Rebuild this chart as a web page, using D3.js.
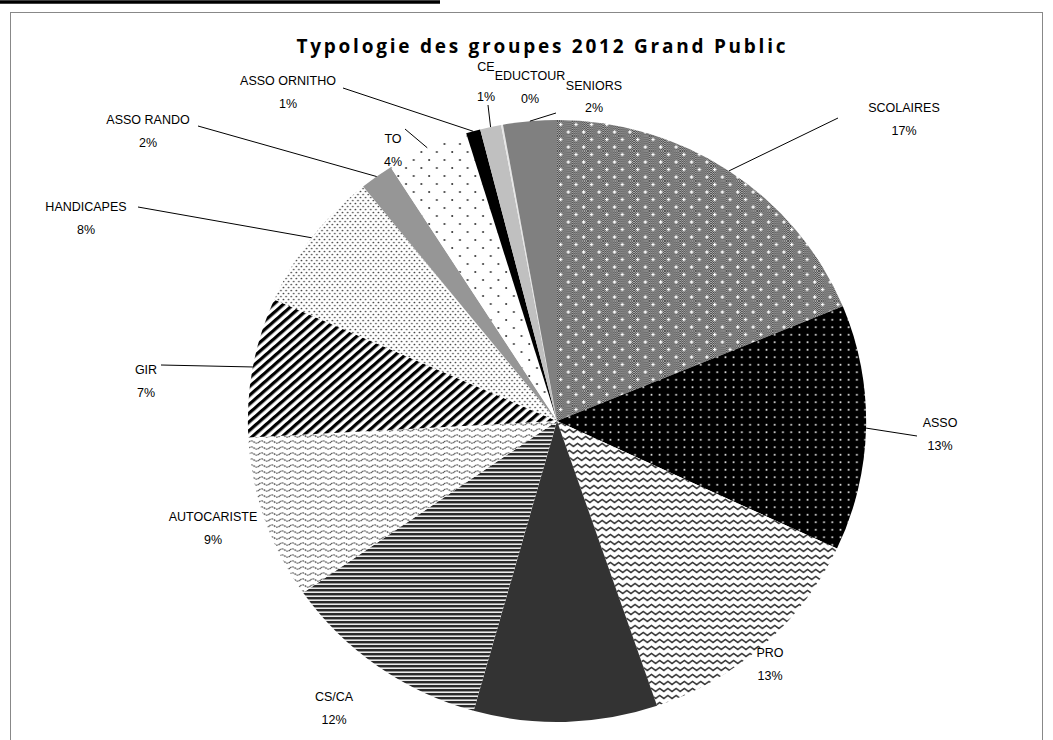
<!DOCTYPE html>
<html><head><meta charset="utf-8">
<script src="https://cdn.jsdelivr.net/npm/d3@7"></script>
<style>body{margin:0;background:#fff} svg{display:block}</style>
</head><body>
<svg id="chart" width="1053" height="740"></svg>
<script>
// ---- data ----
const title = "Typologie des groupes 2012 Grand Public";
const categories = ["SCOLAIRES","ASSO","PRO","","CS/CA","AUTOCARISTE","GIR","HANDICAPES","ASSO RANDO","TO","ASSO ORNITHO","CE","EDUCTOUR","SENIORS"];
const values = [18.8,13.2,12.8,9.6,11.0,8.8,7.5,7.6,1.75,4.3,0.75,1.1,0.1,2.8];
const percentLabels = ["17%","13%","13%","","12%","9%","7%","8%","2%","4%","1%","1%","0%","2%"];

// ---- layout / style ----
const fills = ["url(#pScol)","url(#pAsso)","url(#pPro)","#333333","url(#pCs)","url(#pAuto)","url(#pGir)","url(#pHand)","#969696","url(#pTo)","#000000","#c0c0c0","#e6e6e6","#808080"];
// [x, baseline of name, baseline of percentage]
const labelPos = [[904,112,135],[940,427,450],[770,657,680],null,[334,701,724],[213,521,544],[146,374,397],[86,211,234],[148,124,147],[393,143,166],[288,85,108],[486,71,101],[530,80,103],[594,90,112]];
const leaderStart = [[838,118],[917,436],null,null,null,null,[161,365],[138,207],[198,126],[405,129],[343,88],[488,105],null,[556,113]];
const cx = 557, cy = 421, R = 301, sx = 1.027;

const svg = d3.select("#chart");
const defs = svg.append("defs");

// checker base
const chk = defs.append("pattern").attr("id","chk").attr("patternUnits","userSpaceOnUse").attr("width",2).attr("height",2);
chk.append("rect").attr("width",2).attr("height",2).attr("fill","#b0b0b0");
chk.append("rect").attr("width",1).attr("height",1).attr("fill","#464646");
chk.append("rect").attr("x",1).attr("y",1).attr("width",1).attr("height",1).attr("fill","#464646");
// SCOLAIRES
const ps = defs.append("pattern").attr("id","pScol").attr("patternUnits","userSpaceOnUse").attr("width",15).attr("height",15);
ps.append("rect").attr("width",15).attr("height",15).attr("fill","url(#chk)");
[[3.5,3.5],[11,11]].forEach(([x,y])=>{
  ps.append("rect").attr("x",x-1.7).attr("y",y-0.6).attr("width",3.4).attr("height",1.3).attr("fill","#fff");
  ps.append("rect").attr("x",x-0.65).attr("y",y-1.7).attr("width",1.3).attr("height",3.4).attr("fill","#fff");
});
// ASSO
const pa = defs.append("pattern").attr("id","pAsso").attr("patternUnits","userSpaceOnUse").attr("width",8).attr("height",7.5);
pa.append("rect").attr("width",8).attr("height",7.5).attr("fill","#000");
pa.append("circle").attr("cx",4).attr("cy",3.7).attr("r",1).attr("fill","#eee");
// PRO zigzag
const pp = defs.append("pattern").attr("id","pPro").attr("patternUnits","userSpaceOnUse").attr("width",8).attr("height",7);
pp.append("rect").attr("width",8).attr("height",7).attr("fill","#fff");
pp.append("path").attr("d","M-2,2.5 L0,4.5 L4,1.5 L8,4.5 L10,2.5").attr("fill","none").attr("stroke","#333").attr("stroke-width",1.5);
// CS/CA horizontal stripes
const pc = defs.append("pattern").attr("id","pCs").attr("patternUnits","userSpaceOnUse").attr("width",8).attr("height",4);
pc.append("rect").attr("width",8).attr("height",4).attr("fill","#ececec");
pc.append("rect").attr("width",8).attr("height",2).attr("fill","#2a2a2a");
pc.append("rect").attr("y",2).attr("width",8).attr("height",1).attr("fill","#9a9a9a");
// AUTOCARISTE waves
const pw = defs.append("pattern").attr("id","pAuto").attr("patternUnits","userSpaceOnUse").attr("width",10).attr("height",6);
pw.append("rect").attr("width",10).attr("height",6).attr("fill","#fff");
pw.append("path").attr("d","M0,3 Q2.5,0.6 5,3 T10,3").attr("fill","none").attr("stroke","#555").attr("stroke-width",1.3).attr("stroke-dasharray","1.6,0.8");
// GIR diagonal
const pg = defs.append("pattern").attr("id","pGir").attr("patternUnits","userSpaceOnUse").attr("width",6.5).attr("height",10).attr("patternTransform","rotate(48)");
pg.append("rect").attr("width",6.5).attr("height",10).attr("fill","#fff");
pg.append("rect").attr("width",3.2).attr("height",10).attr("fill","#000");
// HANDICAPES small dots
const ph = defs.append("pattern").attr("id","pHand").attr("patternUnits","userSpaceOnUse").attr("width",5).attr("height",6);
ph.append("rect").attr("width",5).attr("height",6).attr("fill","#fff");
ph.append("circle").attr("cx",1.2).attr("cy",1.5).attr("r",0.85).attr("fill","#444");
ph.append("circle").attr("cx",3.7).attr("cy",4.5).attr("r",0.85).attr("fill","#444");
// TO sparse dots
const pt = defs.append("pattern").attr("id","pTo").attr("patternUnits","userSpaceOnUse").attr("width",15).attr("height",16);
pt.append("rect").attr("width",15).attr("height",16).attr("fill","#fff");
pt.append("circle").attr("cx",3).attr("cy",3).attr("r",1).attr("fill","#333");
pt.append("circle").attr("cx",10.5).attr("cy",11).attr("r",1).attr("fill","#333");

// frame and header bar
svg.append("line").attr("x1",0).attr("x2",440).attr("y1",2).attr("y2",2).attr("stroke","#000").attr("stroke-width",3.5);
svg.append("rect").attr("x",10.5).attr("y",12.5).attr("width",1032).attr("height",740).attr("fill","none").attr("stroke","#888").attr("stroke-width",1);

// title
svg.append("text").attr("x",541).attr("y",53).attr("text-anchor","middle")
  .attr("font-family","'Open Sans', Lato, sans-serif").attr("font-weight","bold").attr("font-size",19)
  .attr("textLength",489).attr("lengthAdjust","spacing").attr("fill","#000").text(title);

// pie
const data = categories.map((c,i)=>({name:c, value:values[i], i}));
const pie = d3.pie().value(d=>d.value).sort(null);
const arcs = pie(data);
const arc = d3.arc().innerRadius(0).outerRadius(R);
const edge = d3.arc().innerRadius(R).outerRadius(R);
const g = svg.append("g").attr("transform",`translate(${cx},${cy}) scale(${sx},1)`);
g.selectAll("path").data(arcs).join("path").attr("d",arc).attr("fill",d=>fills[d.data.i]);

// leader lines
arcs.forEach(d=>{
  const s = leaderStart[d.data.i];
  if(!s) return;
  const [ex,ey] = edge.centroid(d);
  svg.append("line").attr("x1",s[0]).attr("y1",s[1]).attr("x2",cx+ex*sx).attr("y2",cy+ey)
    .attr("stroke","#000").attr("stroke-width",1);
});

// labels
const lab = svg.append("g").attr("font-family","'Liberation Sans', Arial, sans-serif").attr("font-size",12.5).attr("fill","#000").attr("text-anchor","middle");
arcs.forEach(d=>{
  const p = labelPos[d.data.i];
  if(!p) return;
  lab.append("text").attr("x",p[0]).attr("y",p[1]).text(d.data.name);
  lab.append("text").attr("x",p[0]).attr("y",p[2]).text(percentLabels[d.data.i]);
});
</script>
</body></html>
